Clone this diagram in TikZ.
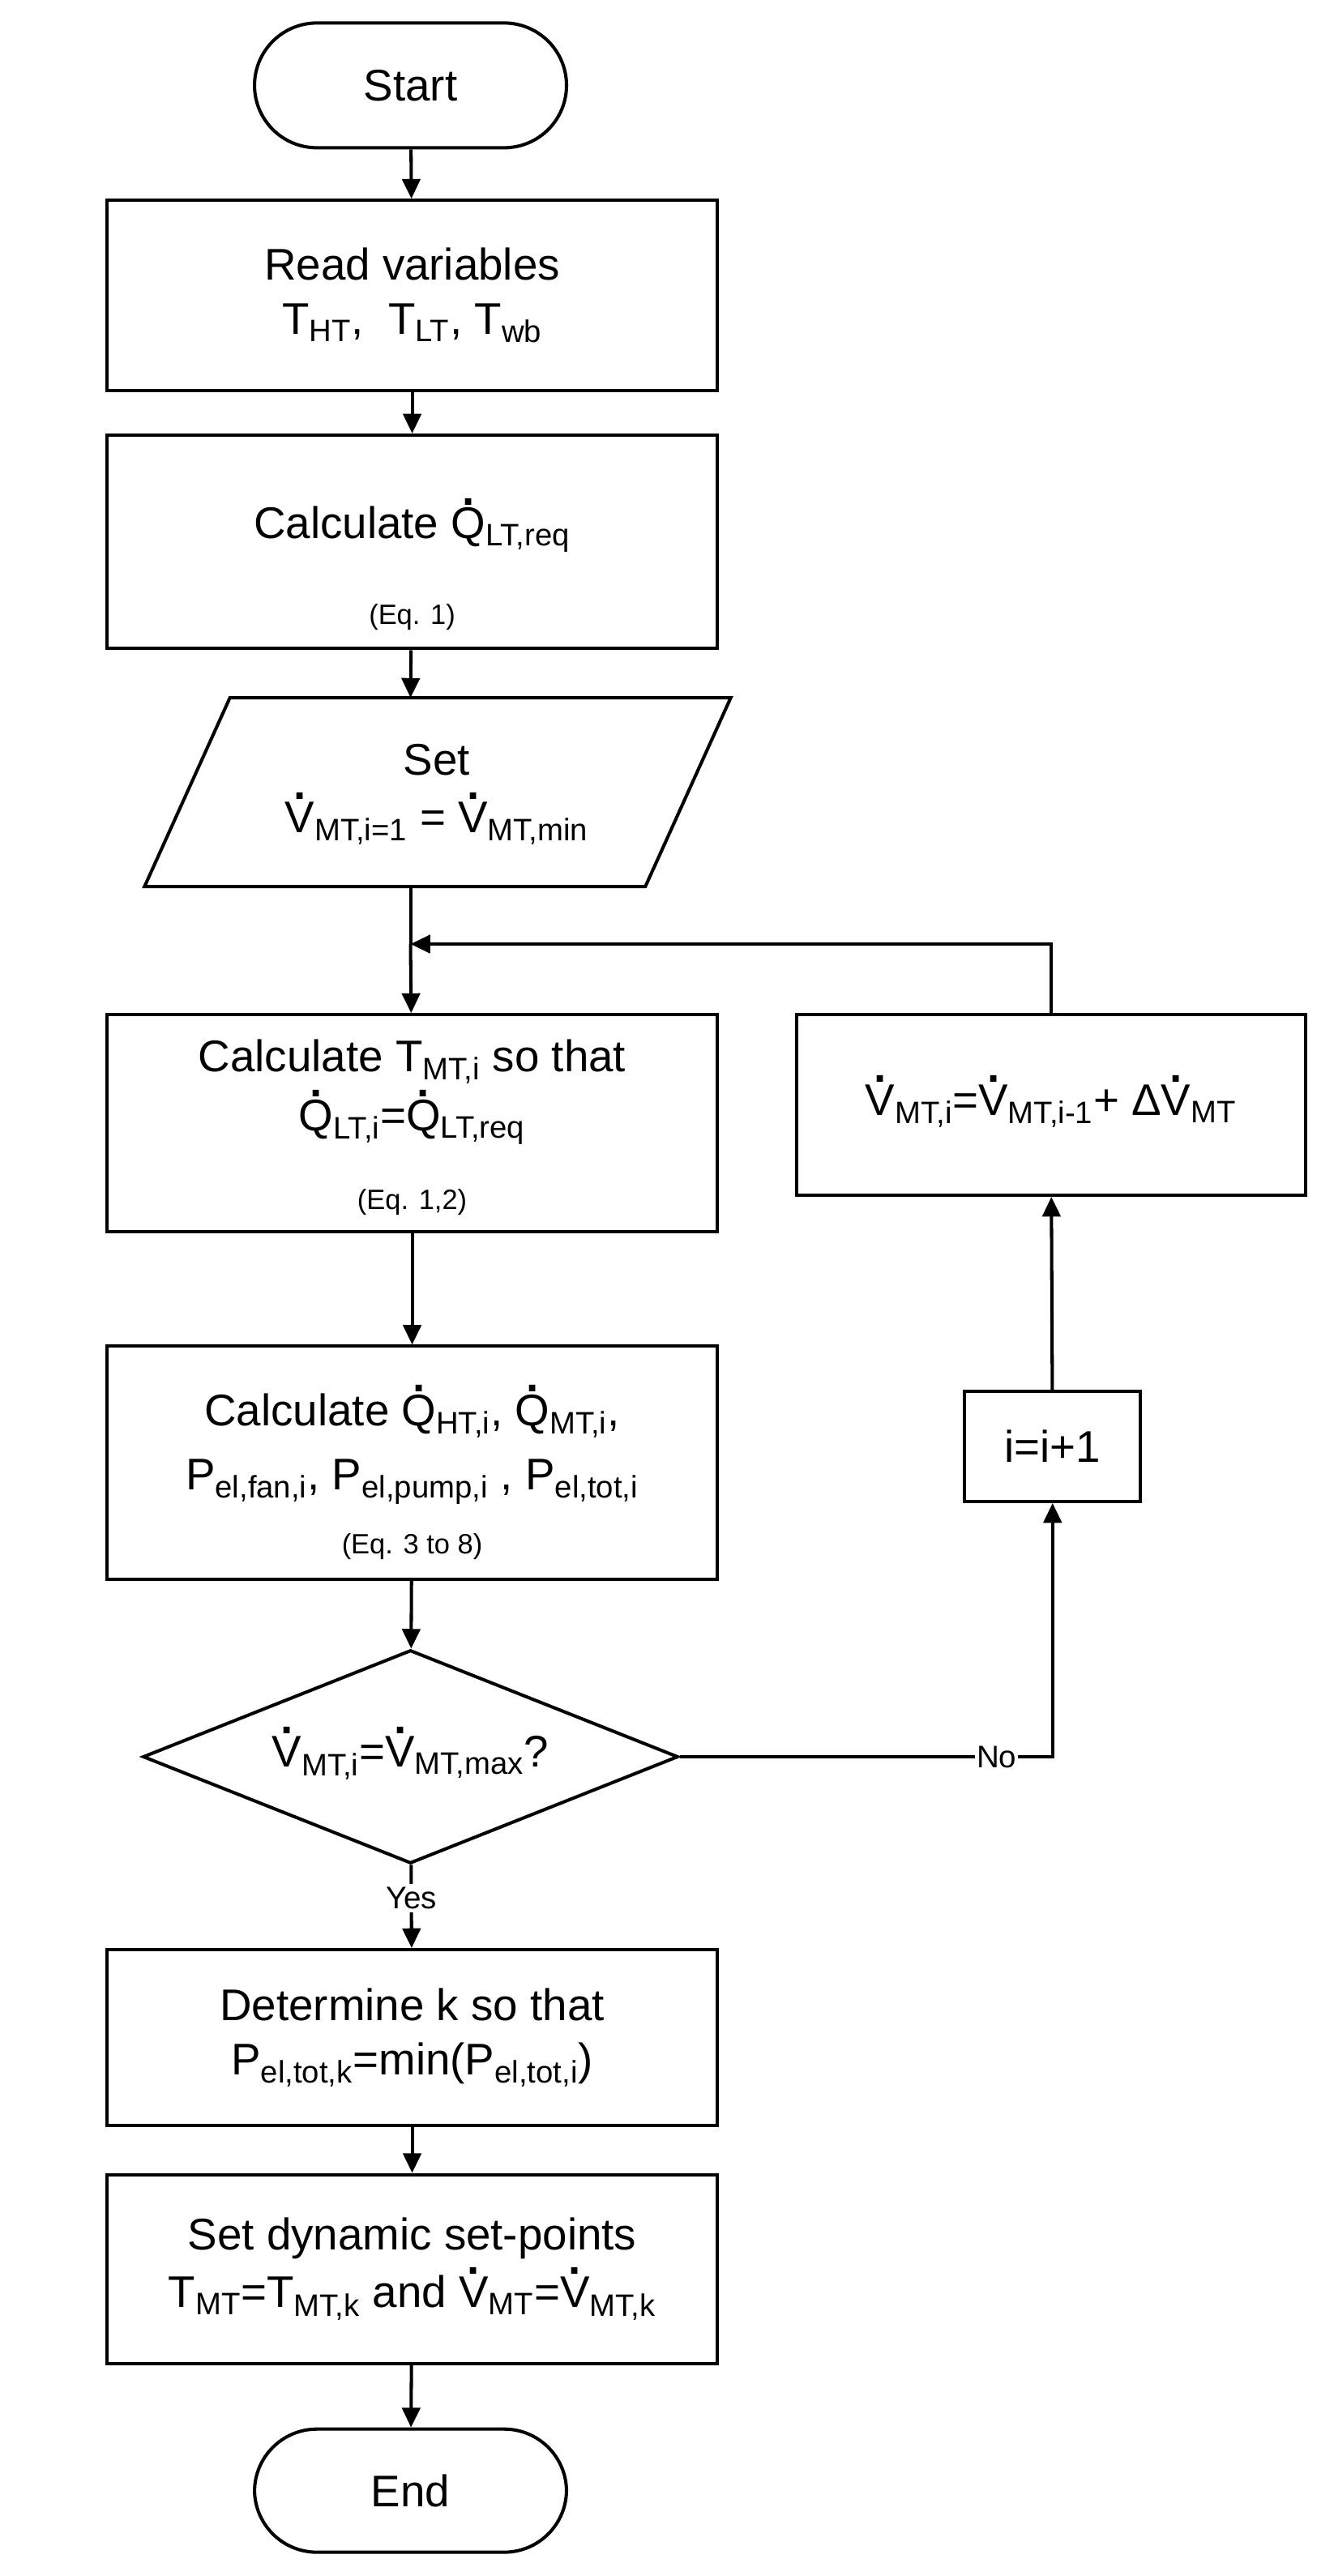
\documentclass[tikz,border=0pt]{standalone}
\usepackage{fontspec}
\setmainfont{Liberation Sans}
\usetikzlibrary{shapes.geometric,arrows.meta}
\newcommand\dt[1]{\setbox0\hbox{#1}\leavevmode\rlap{\hbox to\wd0{\hss\raisebox{\dimexpr\ht0+0.06em\relax}{\smash{\textbf{.}}}\hss}}\box0}
\newcommand\sub[1]{\textsubscript{#1}}
\begin{document}
\begin{tikzpicture}[x=1pt,y=-1pt,
  every node/.style={font=\fontsize{27}{33}\selectfont, align=center, inner sep=0pt},
  box/.style={draw, line width=2pt},
  sm/.style={font=\fontsize{17}{20}\selectfont},
  arr/.style={line width=2pt, -{Triangle[length=12pt,width=11pt]}},
  ln/.style={line width=2pt}]
\useasboundingbox (0,0) rectangle (812,1569);
\node[box, rounded corners=38pt, minimum width=190pt, minimum height=76pt] (start) at (250,52) {Start};
\node[box, minimum width=372pt, minimum height=116pt] (read) at (251,180) {Read variables\\T\sub{HT},\; T\sub{LT}, T\sub{wb}};
\node[box, minimum width=372pt, minimum height=130pt] (calq) at (251,330) {};
\node at (251,322) {Calculate \dt{Q}\sub{LT,req}};
\node[sm] at (251,376) {(Eq. 1)};
\draw[ln] (140,425) -- (445,425) -- (393,540) -- (88,540) -- cycle;
\node[inner sep=0] (set) at (266,484) {Set\\[2pt]\dt{V}\sub{MT,i=1} = \dt{V}\sub{MT,min}};
\coordinate (setb) at (250,540);
\coordinate (setT) at (250,425);
\coordinate (j) at (250,575);
\node[box, minimum width=372pt, minimum height=132pt] (calt) at (251,684) {};
\node at (251,665) {Calculate T\sub{MT,i} so that\\[3pt]\dt{Q}\sub{LT,i}=\dt{Q}\sub{LT,req}};
\node[sm] at (251,732) {(Eq. 1,2)};
\node[box, minimum width=372pt, minimum height=142pt] (calh) at (251,891) {};
\node at (251,882) {Calculate \dt{Q}\sub{HT,i}, \dt{Q}\sub{MT,i},\\[6pt]P\sub{el,fan,i}, P\sub{el,pump,i} , P\sub{el,tot,i}};
\node[sm] at (251,942) {(Eq. 3 to 8)};
\node[draw, ln, diamond, aspect=2.5, minimum width=326pt, minimum height=130pt] (dia) at (250,1070) {};
\node at (250,1070) {\dt{V}\sub{MT,i}=\dt{V}\sub{MT,max}?};
\node[box, minimum width=372pt, minimum height=107pt] (det) at (251,1241) {Determine k so that\\P\sub{el,tot,k}=min(P\sub{el,tot,i})};
\node[box, minimum width=372pt, minimum height=115pt] (dyn) at (251,1382) {Set dynamic set-points\\[2pt]T\sub{MT}=T\sub{MT,k} and \dt{V}\sub{MT}=\dt{V}\sub{MT,k}};
\node[box, rounded corners=38pt, minimum width=190pt, minimum height=75pt] (end) at (250,1517) {End};
\node[box, minimum width=310pt, minimum height=110pt] (upd) at (640,673) {\dt{V}\sub{MT,i}=\dt{V}\sub{MT,i-1}+ Δ\dt{V}\sub{MT}};
\node[box, minimum width=107pt, minimum height=67pt] (inc) at (641,881) {i=i+1};
\draw[arr] (start) -- (read);
\draw[arr] (read) -- (calq);
\draw[arr] (calq) -- (setT);
\draw[ln] (setb) -- (j);
\draw[arr] (j) -- (calt);
\draw[arr] (calt) -- (calh);
\draw[arr] (calh) -- (dia);
\draw[arr] (dia) -- node[fill=white, font=\fontsize{19}{22}\selectfont, inner sep=2pt, pos=0.4]{Yes} (det);
\draw[arr] (det) -- (dyn);
\draw[arr] (dyn) -- (end);
\draw[arr] (dia.east) -- (641,1070) node[fill=white, font=\fontsize{19}{22}\selectfont, inner sep=1pt, pos=0.85]{No} -- (inc.south);
\draw[arr] (inc) -- (upd);
\draw[arr] (upd.north) -- (640,575) -- (j);
\end{tikzpicture}
\end{document}
